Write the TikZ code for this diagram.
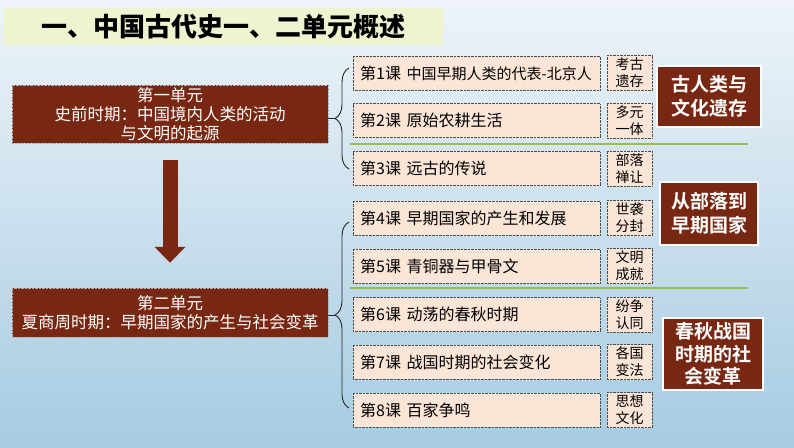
\documentclass[tikz,border=0pt]{standalone}
\usepackage{fontspec}
\usepackage{tikz}
\usetikzlibrary{arrows.meta, positioning, calc, decorations.pathreplacing}
\newfontfamily\cjk{Noto Sans CJK SC}
\newfontfamily\cjkbold{Noto Sans CJK SC Bold}
\newfontfamily\cjkblack{Noto Sans CJK SC Black}
\definecolor{unitbrown}{RGB}{120, 40, 18}
\definecolor{lessonbg}{RGB}{251, 229, 214}
\definecolor{bannerbg}{RGB}{240, 243, 208}
\definecolor{sepgreen}{RGB}{155, 187, 89}
\definecolor{bgtop}{RGB}{238, 244, 249}
\definecolor{bgbottom}{RGB}{166, 203, 226}

\tikzset{
  unitbox/.style={draw=gray!60, densely dotted, fill=unitbrown, text=white, font=\cjk\fontsize{16.5}{19}\selectfont, align=center, minimum width=316pt, inner sep=0pt},
  lesson/.style={draw=gray!60!black, densely dotted, fill=lessonbg, font=\cjk\fontsize{16}{18}\selectfont, anchor=west, minimum height=34pt, minimum width=247pt, inner xsep=7pt, inner ysep=0pt},
  tag/.style={draw=gray!60!black, densely dotted, fill=lessonbg, font=\cjk\fontsize{14}{17}\selectfont, minimum width=45pt, minimum height=35pt, inner sep=0pt, align=center},
  topic/.style={draw=white, line width=1.2pt, fill=unitbrown, text=white, font=\cjkbold\fontsize{19}{24}\selectfont, align=center, inner sep=0pt},
  sep/.style={sepgreen, line width=1.6pt},
  brace line/.style={black!85, line width=0.9pt},
  bigarrow/.style={unitbrown, line width=15pt, -{Triangle[width=30pt, length=16pt]}, shorten <=17pt, shorten >=25pt}
}

\begin{document}
\begin{tikzpicture}[x=1pt, y=-1pt]
  % background
  \shade[top color=bgtop, bottom color=bgbottom] (0,0) rectangle (794,447);
  \useasboundingbox (0,0) rectangle (794,447);

  % title banner
  \fill[bannerbg] (4,8) rectangle (443,45);
  \node[font=\cjkblack\fontsize{26}{28}\selectfont] (title) at (223,27) {一、中国古代史一、二单元概述};

  % units
  \node[unitbox, minimum height=58pt] (u1) at (170,114) {第一单元\\史前时期：中国境内人类的活动\\与文明的起源};
  \node[unitbox, minimum height=49pt] (u2) at (170,312.5) {第二单元\\夏商周时期：早期国家的产生与社会变革};
  \draw[bigarrow] (u1.south) -- (u2.north);

  % lessons and tags
  \foreach \i/\y/\txt/\ta/\tb in {
      1/73/{{\fontsize{15}{18}\selectfont 中国早期人类的代表-北京人}}/考古/遗存,
      2/120.5/{原始农耕生活}/多元/一体,
      3/168.5/{远古的传说}/部落/禅让,
      4/218/{早期国家的产生和发展}/世袭/分封,
      5/266/{青铜器与甲骨文}/文明/成就,
      6/314.5/{动荡的春秋时期}/纷争/认同,
      7/362/{战国时期的社会变化}/各国/变法,
      8/410/{百家争鸣}/思想/文化}{
    \node[lesson] (l\i) at (353,\y) {\makebox[233pt][l]{第\i 课\hspace{0.35em}\txt}};
    \node[tag] (t\i) at (629.5,\y) {\ta\\\tb};
  }

  % separators
  \draw[sep] (350,144) -- (748,144);
  \draw[sep] (350,288) -- (748,288);

  % braces
  \coordinate (b1) at (335,118.5);
  \coordinate (b2) at (335,315);
  \draw[brace line, decorate, decoration={brace, amplitude=14pt}] (349,169) -- (349,68);
  \draw[brace line, decorate, decoration={brace, amplitude=14pt}] (349,408) -- (349,222);
  \draw[brace line] (u1.east |- b1) -- (b1);
  \draw[brace line] (u2.east |- b2) -- (b2);

  % topics
  \node[topic, minimum width=104pt, minimum height=61pt] (p1) at (709,96.5) {古人类与\\文化遗存};
  \node[topic, minimum width=98pt, minimum height=63pt] (p2) at (709,213.5) {从部落到\\早期国家};
  \node[topic, minimum width=100pt, minimum height=72pt, font=\cjkbold\fontsize{19}{22.5}\selectfont] (p3) at (713,354) {春秋战国\\时期的社\\会变革};
\end{tikzpicture}
\end{document}
